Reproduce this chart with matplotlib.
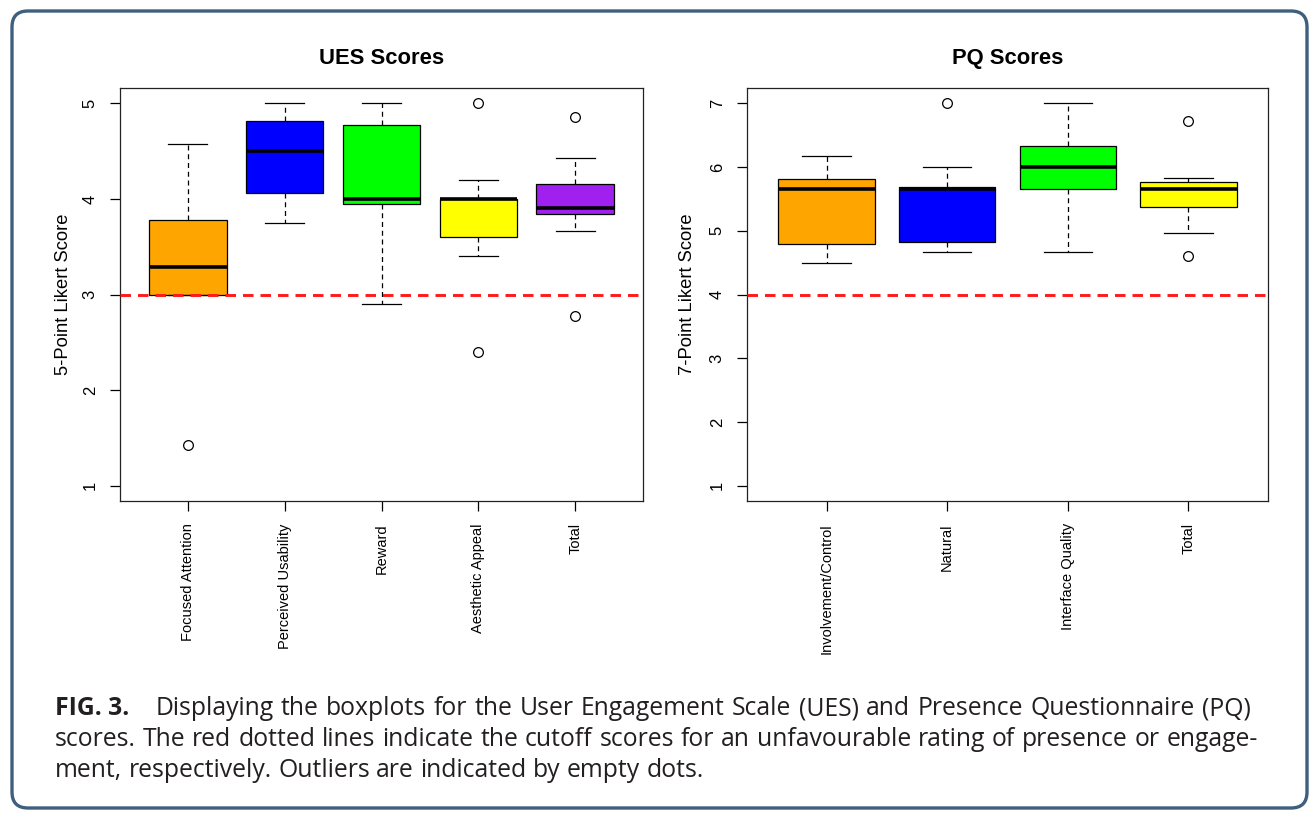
import matplotlib
matplotlib.use("Agg")
import matplotlib.pyplot as plt
from matplotlib.patches import FancyBboxPatch

# ---------------- data ----------------
ues_labels = ["Focused Attention", "Perceived Usability", "Reward", "Aesthetic Appeal", "Total"]
ues_whislo = [3.00, 3.75, 2.90, 3.40, 3.66]
ues_q1 = [3.00, 4.06, 3.95, 3.60, 3.84]
ues_med = [3.29, 4.50, 4.00, 4.00, 3.90]
ues_q3 = [3.78, 4.81, 4.77, 4.00, 4.16]
ues_whishi = [4.57, 5.00, 5.00, 4.20, 4.43]
ues_fliers = [[1.43], [], [], [5.00, 2.40], [4.86, 2.78]]
ues_colors = ["#FFA500", "#0000FF", "#00FF00", "#FFFF00", "#A020F0"]
ues_cutoff = 3
ues_yticks = [1, 2, 3, 4, 5]

pq_labels = ["Involvement/Control", "Natural", "Interface Quality", "Total"]
pq_whislo = [4.50, 4.67, 4.67, 4.97]
pq_q1 = [4.79, 4.83, 5.66, 5.37]
pq_med = [5.66, 5.66, 6.00, 5.65]
pq_q3 = [5.82, 5.69, 6.33, 5.76]
pq_whishi = [6.17, 6.00, 7.00, 5.83]
pq_fliers = [[], [7.00], [], [6.72, 4.61]]
pq_colors = ["#FFA500", "#0000FF", "#00FF00", "#FFFF00"]
pq_cutoff = 4
pq_yticks = [1, 2, 3, 4, 5, 6, 7]

caption_bold = "FIG. 3."
caption_lines = [
    "Displaying the boxplots for the User Engagement Scale (UES) and Presence Questionnaire (PQ)",
    "scores. The red dotted lines indicate the cutoff scores for an unfavourable rating of presence or engage-",
    "ment, respectively. Outliers are indicated by empty dots.",
]

# ---------------- figure ----------------
W, H, DPI = 1312, 814, 100
fig = plt.figure(figsize=(W / DPI, H / DPI), dpi=DPI)
fig.patch.set_facecolor("white")

PLOT_FONT = "Liberation Sans"
CAP_FONT = "Open Sans"

# overlay axes in pixel units for border + caption
ov = fig.add_axes([0, 0, 1, 1], zorder=-1)
ov.set_xlim(0, W)
ov.set_ylim(H, 0)
ov.axis("off")
ov.add_patch(FancyBboxPatch((12, 11), 1295, 797,
                            boxstyle="round,pad=0,rounding_size=16",
                            fill=False, edgecolor="#3E5F7E", linewidth=2.4))


def make_panel(rect, labels, whislo, q1, med, q3, whishi, fliers, colors,
               cutoff, yticks, ylim, title, ylabel, ylabel_x):
    ax = fig.add_axes(rect)
    stats = []
    for i in range(len(labels)):
        stats.append(dict(label=labels[i], whislo=whislo[i], q1=q1[i], med=med[i],
                          q3=q3[i], whishi=whishi[i], fliers=fliers[i]))
    n = len(labels)
    bp = ax.bxp(stats, positions=list(range(1, n + 1)), widths=0.8, capwidths=0.4,
                patch_artist=True, showfliers=True,
                boxprops=dict(edgecolor="black", linewidth=0.9),
                medianprops=dict(color="black", linewidth=2.6, solid_capstyle="butt"),
                whiskerprops=dict(color="black", linewidth=0.9, linestyle=(0, (4, 3))),
                capprops=dict(color="black", linewidth=0.9),
                flierprops=dict(marker="o", markerfacecolor="none", markeredgecolor="black",
                                markersize=7, markeredgewidth=0.9, linestyle="none"))
    for patch, c in zip(bp["boxes"], colors):
        patch.set_facecolor(c)
    ax.axhline(cutoff, color="#FF1A1A", linewidth=2.1, linestyle=(0, (3.6, 2.4)), zorder=5)
    span = n
    ax.set_xlim(0.5 - 0.04 * span, n + 0.5 + 0.04 * span)
    yr = ylim[1] - ylim[0]
    ax.set_ylim(ylim[0] - 0.04 * yr, ylim[1] + 0.04 * yr)
    ax.set_yticks(yticks)
    ax.set_yticklabels([str(t) for t in yticks], rotation=90, va="center",
                       fontfamily=PLOT_FONT, fontsize=12)
    ax.set_xticks(list(range(1, n + 1)))
    ax.set_xticklabels(labels, rotation=90, va="top", ha="center",
                       fontfamily=PLOT_FONT, fontsize=10.5)
    ax.tick_params(axis="both", direction="out", length=7, width=0.9, colors="black")
    ax.tick_params(axis="y", pad=9)
    ax.tick_params(axis="x", pad=9)
    for s in ax.spines.values():
        s.set_linewidth(0.9)
        s.set_color("#222222")
    ax.set_title(title, fontfamily=PLOT_FONT, fontweight="bold", fontsize=15.8, pad=17)
    ax.set_ylabel(ylabel, fontfamily=PLOT_FONT, fontsize=13.2)
    ax.yaxis.set_label_coords(ylabel_x, 0.5)
    return ax


def fr(x0, y0, x1, y1):
    return [x0 / W, 1 - y1 / H, (x1 - x0) / W, (y1 - y0) / H]


make_panel(fr(120, 88, 643, 501), ues_labels, ues_whislo, ues_q1, ues_med, ues_q3,
           ues_whishi, ues_fliers, ues_colors, ues_cutoff, ues_yticks, (1, 5),
           "UES Scores", "5-Point Likert Score", -0.092)
make_panel(fr(747, 88, 1268, 501), pq_labels, pq_whislo, pq_q1, pq_med, pq_q3,
           pq_whishi, pq_fliers, pq_colors, pq_cutoff, pq_yticks, (1, 7),
           "PQ Scores", "7-Point Likert Score", -0.098)

# ---------------- caption (justified) ----------------
renderer = fig.canvas.get_renderer()
cap_color = "#231F20"
fs = 17.8
x_left = 55
targets = [1251, 1258, None]
baselines = [715, 746, 777]


def width_px(t):
    bb = t.get_window_extent(renderer)
    return bb.width


# bold lead
lead = ov.text(x_left, baselines[0], caption_bold, fontfamily=CAP_FONT, fontweight="bold",
               fontsize=fs, color=cap_color, va="baseline", ha="left")
lead_w = width_px(lead)
space_t = ov.text(0, 0, "a a", fontfamily=CAP_FONT, fontsize=fs)
aa = ov.text(0, 0, "aa", fontfamily=CAP_FONT, fontsize=fs)
space_w = width_px(space_t) - width_px(aa)
space_t.remove()
aa.remove()

for li, line in enumerate(caption_lines):
    words = line.split(" ")
    start = x_left + (lead_w + 26 if li == 0 else 0)
    texts = []
    widths = []
    for w in words:
        t = ov.text(0, baselines[li], w, fontfamily=CAP_FONT, fontsize=fs, color=cap_color,
                    va="baseline", ha="left")
        texts.append(t)
        widths.append(width_px(t))
    if targets[li] is not None and len(words) > 1:
        gap = (targets[li] - start - sum(widths)) / (len(words) - 1)
    else:
        gap = space_w
    x = start
    for t, wd in zip(texts, widths):
        t.set_x(x)
        x += wd + gap

fig.savefig("out.png", dpi=DPI, facecolor="white")
